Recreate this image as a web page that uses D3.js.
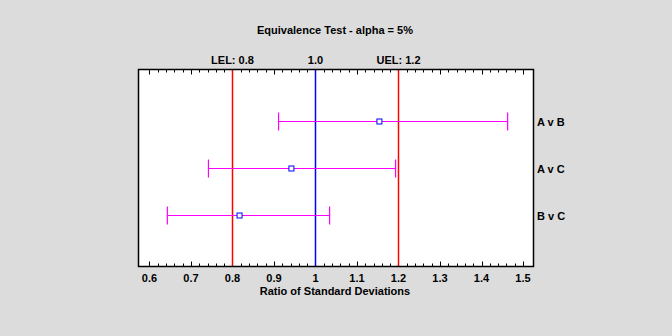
<!DOCTYPE html>
<html><head><meta charset="utf-8">
<script src="https://cdn.jsdelivr.net/npm/d3@7"></script>
<style>body{margin:0;background:#dcdcdc;}svg{display:block;}text{font-family:"Liberation Sans",Arial,sans-serif;font-weight:bold;fill:#000;}</style>
</head><body><svg id="c" width="672" height="336"></svg>
<script>
const comparisons = ["A v B", "A v C", "B v C"];
const lowerLimits = [0.911, 0.742, 0.643];
const estimates = [1.154, 0.942, 0.817];
const upperLimits = [1.463, 1.193, 1.034];
const refValues = [0.8, 1.0, 1.2];
const refLabels = ["LEL: 0.8", "1.0", "UEL: 1.2"];
const refColors = ["#ff0000", "#0000ff", "#ff0000"];
const tickValues = [0.6, 0.7, 0.8, 0.9, 1, 1.1, 1.2, 1.3, 1.4, 1.5];
const title = "Equivalence Test - alpha = 5%";
const xTitle = "Ratio of Standard Deviations";

const svg = d3.select("#c");
const L = 138.5, R = 533.5, T = 69.5, B = 266.5;
const x = d3.scaleLinear().domain([0.5735, 1.5253]).range([L, R]);
const y = d3.scalePoint().domain(comparisons).range([T, B]).padding(1.1);

svg.append("rect").attr("x", L).attr("y", T).attr("width", R - L).attr("height", B - T).attr("fill", "#fff");

// minor ticks
const minor = d3.range(0, 46).map(i => +(0.6 + i * 0.02).toFixed(2));
const g = svg.append("g");
minor.forEach(v => {
  const isMajor = Math.abs(v * 10 - Math.round(v * 10)) < 1e-6;
  const len = isMajor ? 5 : 3;
  const xx = Math.round(x(v)) + 0.5;
  g.append("line").attr("x1", xx).attr("x2", xx).attr("y1", T).attr("y2", T + len).attr("stroke", "#000");
  g.append("line").attr("x1", xx).attr("x2", xx).attr("y1", B).attr("y2", B - len).attr("stroke", "#000");
});

// reference lines
refValues.forEach((v, i) => {
  svg.append("line").attr("x1", x(v)).attr("x2", x(v)).attr("y1", T).attr("y2", B)
    .attr("stroke", refColors[i]).attr("stroke-width", 1.5);
  svg.append("text").attr("x", x(v)).attr("y", 64).attr("text-anchor", "middle")
    .attr("font-size", 11).text(refLabels[i]);
});

// error bars
comparisons.forEach((c, i) => {
  const yy = Math.round(y(c)) + 0.5;
  const col = "#ff00ff";
  svg.append("line").attr("x1", x(lowerLimits[i])).attr("x2", x(upperLimits[i])).attr("y1", yy).attr("y2", yy).attr("stroke", col).attr("stroke-width", 1.2);
  [lowerLimits[i], upperLimits[i]].forEach(v => {
    svg.append("line").attr("x1", x(v)).attr("x2", x(v)).attr("y1", yy - 9).attr("y2", yy + 9).attr("stroke", col).attr("stroke-width", 1.2);
  });
  svg.append("rect").attr("x", x(estimates[i]) - 2.5).attr("y", yy - 2.5).attr("width", 5).attr("height", 5)
    .attr("fill", "#fff").attr("stroke", "#0000ff").attr("stroke-width", 1);
  svg.append("text").attr("x", 537).attr("y", yy + 4).attr("font-size", 11).text(c);
});

// frame
svg.append("rect").attr("x", L).attr("y", T).attr("width", R - L).attr("height", B - T)
  .attr("fill", "none").attr("stroke", "#000").attr("stroke-width", 1.5);

// tick labels
svg.append("g").selectAll("text").data(tickValues).join("text")
  .attr("x", d => x(d)).attr("y", 282).attr("text-anchor", "middle").attr("font-size", 11)
  .text(d => d3.format("")(d));

svg.append("text").attr("x", 335).attr("y", 295).attr("text-anchor", "middle").attr("font-size", 11).text(xTitle);
svg.append("text").attr("x", 335).attr("y", 34).attr("text-anchor", "middle").attr("font-size", 11).text(title);
</script></body></html>
